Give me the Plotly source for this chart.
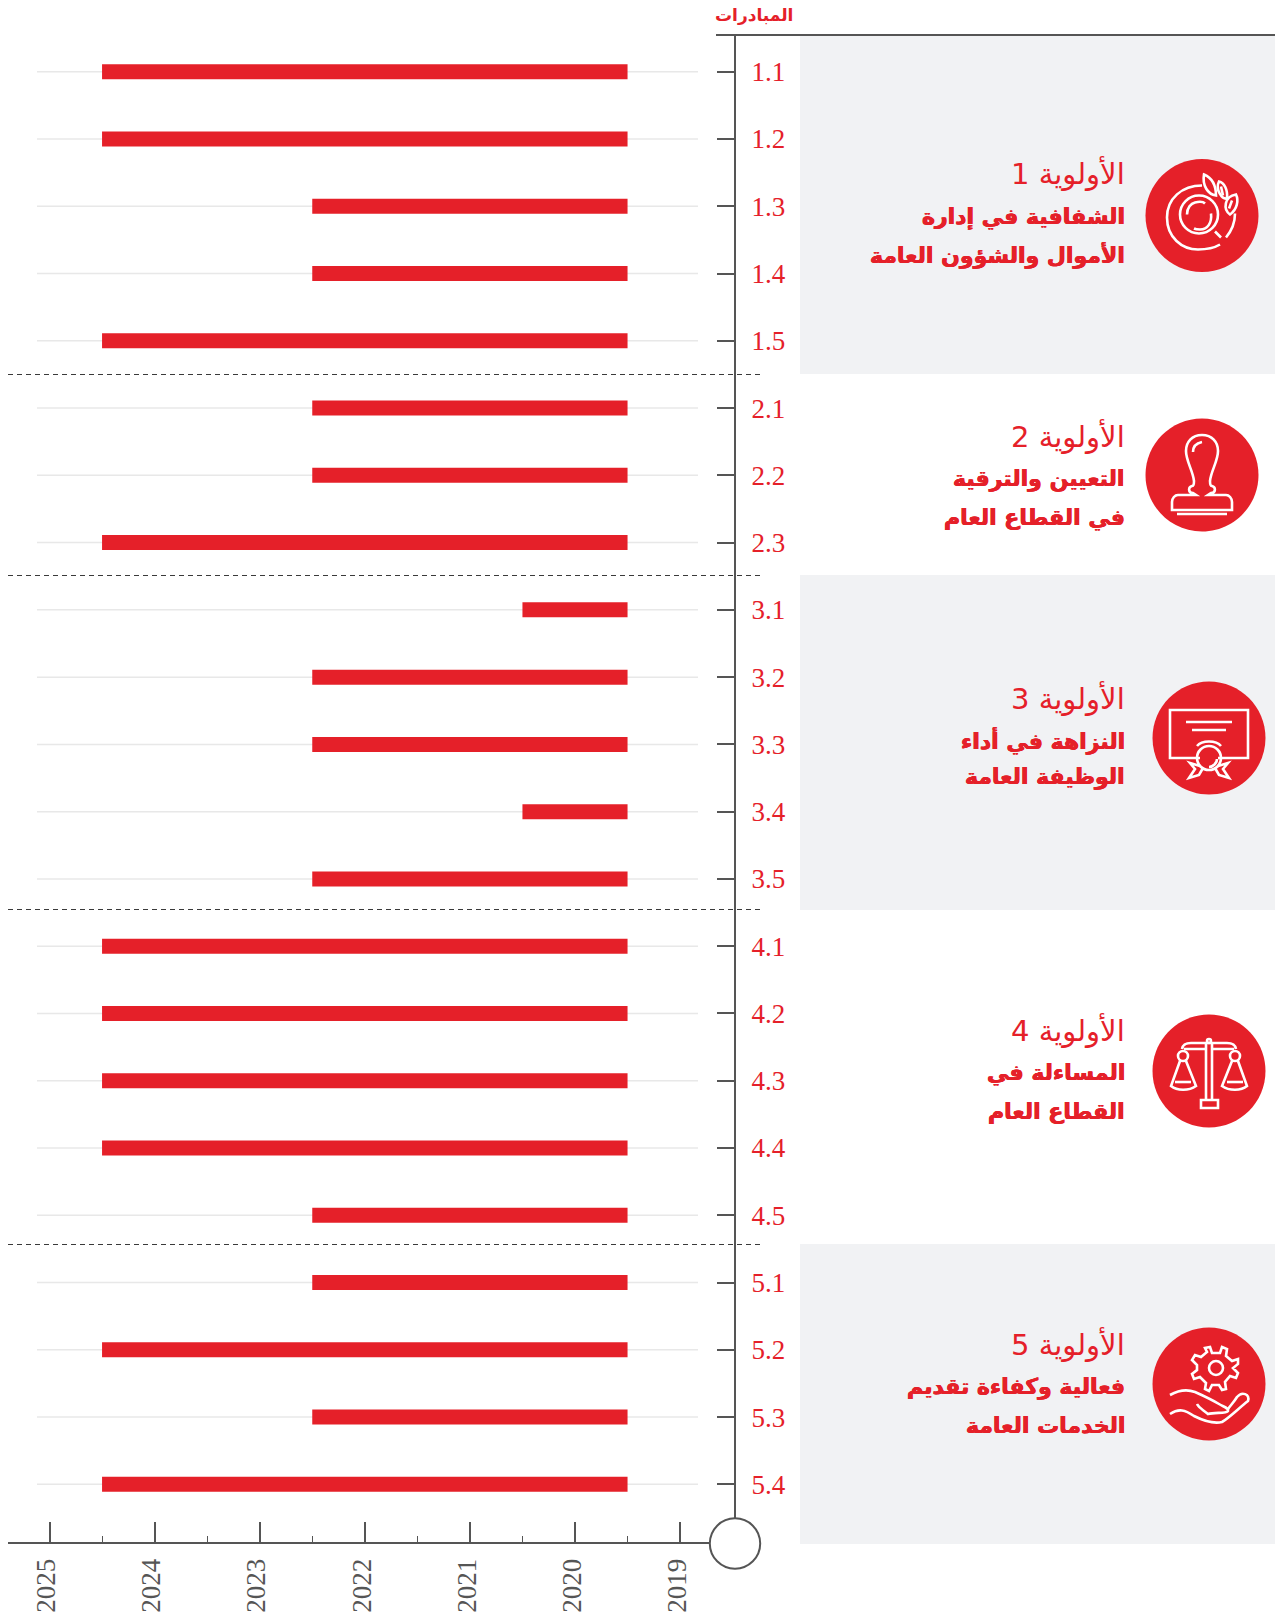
import re
import plotly.graph_objects as go

# ---------- data ----------
initiatives = ["1.1","1.2","1.3","1.4","1.5","2.1","2.2","2.3",
               "3.1","3.2","3.3","3.4","3.5",
               "4.1","4.2","4.3","4.4","4.5",
               "5.1","5.2","5.3","5.4"]
start_year = [2024.5,2024.5,2022.5,2022.5,2024.5,2022.5,2022.5,2024.5,
              2020.5,2022.5,2022.5,2020.5,2022.5,
              2024.5,2024.5,2024.5,2024.5,2022.5,
              2022.5,2024.5,2022.5,2024.5]
end_year = [2019.5] * 22
year_ticks = [2019,2020,2021,2022,2023,2024,2025]
half_ticks = [2019.5,2020.5,2021.5,2022.5,2023.5,2024.5]
priority_names = ["الأولوية 1","الأولوية 2","الأولوية 3","الأولوية 4","الأولوية 5"]
priority_line1 = ["الشفافية في إدارة","التعيين والترقية","النزاهة في أداء","المساءلة في","فعالية وكفاءة تقديم"]
priority_line2 = ["الأموال والشؤون العامة","في القطاع العام","الوظيفة العامة","القطاع العام","الخدمات العامة"]
header = "المبادرات"

# ---------- style ----------
W, H = 1275, 1616
L, R, T, B = 8, 734, 35, 1542
RED = "#E52029"; DARK = "#555555"; PANEL = "#F1F2F4"; GRID = "#E8E8E8"
SERIF = "Liberation Serif"
ARABIC = "DejaVu Sans"
HEAVY = "0.4px 0 0 #E52029, -0.4px 0 0 #E52029"
TEXT_RIGHT = 1127

def px(x): return (x - L) / (R - L)
def py(y): return (B - y) / (B - T)

def path_px(d, cx=0, cy=0):
    toks = re.findall(r"[A-Za-z]|-?\d+\.?\d*", d)
    out = []
    isx = True
    for t in toks:
        if t.isalpha():
            out.append(t); isx = True
        else:
            v = float(t)
            out.append(f"{px(v+cx):.5f}" if isx else f"{py(v+cy):.5f}")
            isx = not isx
    return " ".join(out)

def circ(cx, cy, r):
    k = 0.5523 * r
    return (f"M {cx-r} {cy} C {cx-r} {cy-k} {cx-k} {cy-r} {cx} {cy-r} "
            f"C {cx+k} {cy-r} {cx+r} {cy-k} {cx+r} {cy} "
            f"C {cx+r} {cy+k} {cx+k} {cy+r} {cx} {cy+r} "
            f"C {cx-k} {cy+r} {cx-r} {cy+k} {cx-r} {cy} Z")

shapes = []
def rect(x0, y0, x1, y1, color):
    shapes.append(dict(type="rect", xref="paper", yref="paper", x0=px(x0), x1=px(x1),
                       y0=py(y0), y1=py(y1), fillcolor=color, line_width=0, layer="below"))
def line(x0, y0, x1, y1, color, width, dash=None, layer="above"):
    shapes.append(dict(type="line", xref="paper", yref="paper", x0=px(x0), x1=px(x1),
                       y0=py(y0), y1=py(y1), line=dict(color=color, width=width, dash=dash), layer=layer))

for y0, y1 in [(35, 374), (575, 910), (1244, 1544)]:
    rect(800, y0, 1275, y1, PANEL)
line(716, 35, 1275, 35, DARK, 2)
for y in [374.5, 575.5, 909.5, 1244.5]:
    line(8, y, 760, y, "#3A3A3A", 1, "5px,4px")

# row guide lines (category position on the y axis)
for i in range(len(initiatives)):
    shapes.append(dict(type="line", xref="paper", yref="y", x0=px(37), x1=px(698), y0=i, y1=i,
                       line=dict(color=GRID, width=1.5), layer="below"))

# empty circle at axes origin
shapes.append(dict(type="path", xref="paper", yref="paper", path=path_px(circ(735, 1543.5, 25.2)),
                   fillcolor="white", line=dict(color=DARK, width=2), layer="above"))

def icon(cx, cy, strokes, w=2.6):
    shapes.append(dict(type="path", xref="paper", yref="paper", path=path_px(circ(cx, cy, 56.5)),
                       fillcolor=RED, line_width=0, layer="above"))
    for s in strokes:
        shapes.append(dict(type="path", xref="paper", yref="paper", path=path_px(s, cx, cy),
                           line=dict(color="white", width=w), layer="above"))

# 1 magnifier and leaves
icon(1202, 215.5, [
    "M 0 -30 C -20 -30 -35 -17 -35 2 C -35 22 -20 34 -4 34 C 5 34 13 32 18 29",
    "M 33 -2 C 33 7 29 16 24 22",
    circ(-3, -1, 19),
    "M -15 -1 C -15 -8 -11 -12 -7 -13 C -3 -14 1 -14 3 -12",
    "M 9 -2 C 10 7 6 14 -2 14 C -3 14 -6 14 -8 13",
    "M 13 16 L 19 22",
    "M 2 -41 C 9 -38 14 -31 14 -20 C 6 -21 0 -30 2 -41 Z",
    "M 17 -34 C 22 -33 26 -26 25 -17 C 20 -16 13 -26 17 -34 Z",
    "M 34 -21 C 37 -15 35 -6 28 -1 C 21 -6 22 -19 34 -21 Z",
    "M 19 -29 L 21 -20",
    "M 30 -15 L 27 -7",
])
# 2 stamp
icon(1202, 475, [
    "M 0 -40 C -10 -40 -16 -33 -16 -24 C -16 -14 -9 -4 -8 6 C -8 10 -9 11 -10 11 C -14 12 -14 18 -9 18 L -6 20 "
    "L -24 20 C -27 20 -30 23 -30 27 L -30 35 L 30 35 L 30 27 C 30 23 27 20 24 20 L 6 20 L 9 18 "
    "C 14 18 14 12 10 11 C 9 11 8 10 8 6 C 9 -4 16 -14 16 -24 C 16 -33 10 -40 0 -40 Z",
    "M -9 -23 C -9 -29 -5 -32 0 -33",
    "M -25 39 L 25 39",
])
# 3 certificate
icon(1209, 738, [
    "M -9 20 L -39 20 L -39 -28 L 39 -28 L 39 20 L 9 20",
    "M -23 -16 L 23 -16", "M -17 -8 L 17 -8",
    "M -12 8 C -7 2 7 2 12 8",
    circ(0, 20, 12),
    "M 0 29 C 4 29 8 25 8 21",
    "M -9 28 L -19 25 L -14 31 L -20 40 L -10 37 L -6 30",
    "M 9 28 L 19 25 L 14 31 L 20 40 L 10 37 L 6 30",
])
# 4 scales
icon(1209, 1071, [
    "M -3 -27 L -3 29 M 3 -27 L 3 29",
    "M -8 29 L 9 29 L 9 37 L -8 37 Z",
    "M -27 -22 C -26 -28 -21 -28 -18 -28 L 18 -28 C 21 -28 26 -28 27 -22",
    "M -25 -22 L -3 -22 M 3 -22 L 25 -22",
    circ(-26, -15, 5), circ(26, -15, 5),
    "M -29 -10 L -38 15 C -32 20 -20 20 -13 15 L -23 -10",
    "M 23 -10 L 13 15 C 20 20 32 20 38 15 L 29 -10",
    "M -34 11 L -18 11", "M 18 11 L 34 11",
    circ(0, -30, 2),
])
# 5 gear in hand
icon(1209, 1384, [
    circ(7, -16, 7),
    "M 1 -37 L 3 -31 L 11 -31 L 13 -37 L 18 -35 L 17 -28 L 23 -23 L 29 -25 L 29 -20 L 24 -16 L 29 -11 L 27 -6 L 21 -8 "
    "L 16 -2 L 17 5 L 13 6 L 10 1 L 3 1 L 0 7 L -4 5 L -3 -1 L -9 -7 L -15 -5 L -17 -10 L -12 -14 L -12 -19 L -17 -24 "
    "L -14 -29 L -8 -27 L -2 -32 L -4 -36 Z",
    "M -39 11 C -30 6 -22 5 -14 8 C -5 12 5 17 10 20 C 15 23 20 24 19 27 C 17 30 6 28 -1 30 C -7 25 -10 24 -12 20",
    "M -39 30 C -30 24 -24 26 -15 32 C -7 36 5 40 13 38 C 20 34 30 24 39 17 C 41 10 33 7 28 13 C 25 18 21 22 19 25",
])

annotations = []
name_y = [173, 436, 698, 1030, 1344]
l1_y = [216.5, 479, 740, 1073, 1387]
l2_y = [254.6, 517.5, 777, 1111, 1425]
for n, a, b, y0, y1, y2 in zip(priority_names, priority_line1, priority_line2, name_y, l1_y, l2_y):
    annotations.append(dict(text=n, x=px(TEXT_RIGHT), y=py(y0), font=dict(size=29, color=RED, family=ARABIC)))
    annotations.append(dict(text=f"<b>{a}</b>", x=px(TEXT_RIGHT), y=py(y1), font=dict(size=22, color=RED, family=ARABIC, shadow=HEAVY)))
    annotations.append(dict(text=f"<b>{b}</b>", x=px(TEXT_RIGHT), y=py(y2), font=dict(size=22, color=RED, family=ARABIC, shadow=HEAVY)))
annotations.append(dict(text=f"<b>{header}</b>", x=px(795), y=py(15), font=dict(size=17, color=RED, family=ARABIC)))
for a in annotations:
    a.update(xref="paper", yref="paper", xanchor="right", yanchor="middle", showarrow=False)

# pixel calibration of the two axes
x_left = 2025 + (49.5 - L) / 105.1
x_right = 2025 - (R - 49.5) / 105.1
y_top = (T - 71.7) / 67.27
y_bottom = (B - 71.7) / 67.27

fig = go.Figure(go.Bar(
    orientation="h",
    y=initiatives,
    base=end_year,
    x=[s - e for s, e in zip(start_year, end_year)],
    width=0.223,
    marker=dict(color=RED, line_width=0),
    hoverinfo="skip",
))
fig.update_layout(
    template="none",
    width=W, height=H, autosize=False, showlegend=False,
    margin=dict(l=L, r=W - R, t=T, b=H - B, pad=0),
    paper_bgcolor="white", plot_bgcolor="rgba(0,0,0,0)",
    shapes=shapes, annotations=annotations,
    xaxis=dict(
        automargin=False,
        range=[x_left, x_right], tickmode="array", tickvals=year_ticks,
        ticktext=[str(y) for y in year_ticks], showgrid=False, zeroline=False,
        showline=True, linecolor=DARK, linewidth=2,
        ticks="inside", ticklen=20, tickwidth=1.5, tickcolor=DARK,
        minor=dict(tickmode="array", tickvals=half_ticks, ticks="inside", ticklen=6, tickwidth=1, tickcolor=DARK, showgrid=False),
        tickangle=-90, tickfont=dict(family=SERIF, size=27, color=DARK), ticklabelstandoff=4, ticklabelshift=3,
    ),
    yaxis=dict(
        automargin=False,
        type="category", categoryorder="array", categoryarray=initiatives,
        range=[y_bottom, y_top], side="right", showgrid=False, zeroline=False,
        showline=True, linecolor=DARK, linewidth=2,
        ticks="inside", ticklen=17, tickwidth=2, tickcolor=DARK,
        tickfont=dict(family=SERIF, size=27, color=RED), ticklabelstandoff=10,
    ),
)
fig.write_html("out.html", config=dict(displayModeBar=False),
               post_script="document.body.style.margin='0';document.body.style.overflow='hidden';")
